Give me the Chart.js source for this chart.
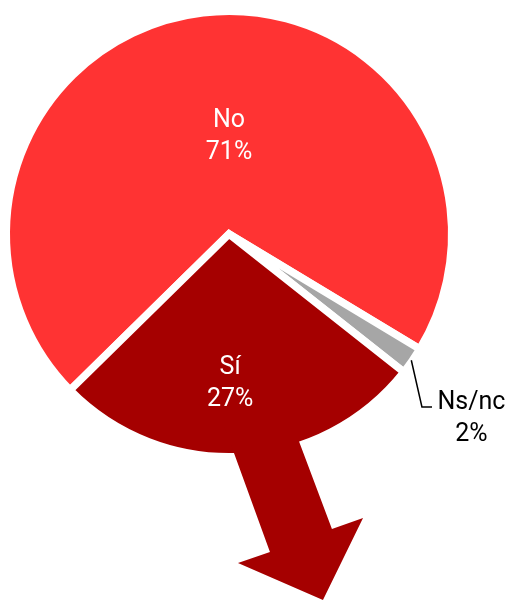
<!DOCTYPE html>
<html>
<head>
<meta charset="utf-8">
<script src="https://cdn.jsdelivr.net/npm/chart.js@4"></script>
<style>
  html, body { margin: 0; padding: 0; background: #fff; }
  #wrap { width: 512px; height: 601px; }
</style>
</head>
<body>
<div id="wrap"><canvas id="myChart" width="512" height="601"></canvas></div>
<script>
// datos del gráfico
const categories = ["No", "Ns/nc", "Sí"];
const percentages = [71, 2, 27];
const sliceColors = ["#FF3333", "#A6A6A6", "#A50000"];
const labelColors = ["#FFFFFF", "#000000", "#FFFFFF"];

const ctx = document.getElementById("myChart").getContext("2d");
const FONT = '25px Roboto, "Liberation Sans", sans-serif';

// posición de cada etiqueta, en fracciones del radio respecto al centro
const labelSpots = [
  [0.0, -0.462],
  [1.107, 0.825],
  [0.005, 0.667],
];

// flecha que sale de la porción "Sí" (fracciones del radio)
const arrowShape = [
  [-0.032, 0.849],
  [0.187, 1.452],
  [0.041, 1.502],
  [0.429, 1.671],
  [0.612, 1.297],
  [0.47, 1.347],
  [0.283, 0.849],
];

const decorations = {
  id: "decorations",
  afterDatasetsDraw(chart) {
    const c = chart.ctx;
    const meta = chart.getDatasetMeta(0);
    const first = meta.data[0];
    const cx = first.x;
    const cy = first.y;
    const r = first.outerRadius - 3.75;

    // flecha
    const si = categories.indexOf("Sí");
    c.save();
    c.fillStyle = sliceColors[si];
    c.beginPath();
    arrowShape.forEach(function (p, i) {
      const x = cx + p[0] * r;
      const y = cy + p[1] * r;
      if (i === 0) c.moveTo(x, y);
      else c.lineTo(x, y);
    });
    c.closePath();
    c.fill();
    c.restore();

    // línea guía para Ns/nc
    const ns = meta.data[1];
    const mid = (ns.startAngle + ns.endAngle) / 2;
    const sx = cx + Math.cos(mid) * (ns.outerRadius - 1);
    const sy = cy + Math.sin(mid) * (ns.outerRadius - 1);
    c.save();
    c.strokeStyle = "#000";
    c.lineWidth = 1.5;
    c.beginPath();
    c.moveTo(sx, sy);
    c.lineTo(cx + 0.881 * r, cy + 0.79 * r);
    c.lineTo(cx + 0.927 * r, cy + 0.79 * r);
    c.stroke();
    c.restore();

    // etiquetas
    c.save();
    c.font = FONT;
    c.textAlign = "center";
    c.textBaseline = "alphabetic";
    categories.forEach(function (name, i) {
      const x = cx + labelSpots[i][0] * r;
      const y = cy + labelSpots[i][1] * r;
      c.fillStyle = labelColors[i];
      c.fillText(name, x, y - 6);
      c.fillText(percentages[i] + "%", x, y + 26);
    });
    c.restore();
  },
};

const myChart = new Chart(ctx, {
  type: "pie",
  data: {
    labels: categories,
    datasets: [
      {
        data: percentages,
        backgroundColor: sliceColors,
        borderColor: "#FFFFFF",
        borderWidth: 7.5,
        borderJoinStyle: "miter",
      },
    ],
  },
  options: {
    responsive: false,
    animation: false,
    rotation: 225.5,
    radius: 222.75,
    layout: {
      padding: { left: 0, right: 54, top: 0, bottom: 133 },
    },
    plugins: {
      legend: { display: false },
      tooltip: { enabled: false },
    },
  },
  plugins: [decorations],
});
</script>
</body>
</html>
